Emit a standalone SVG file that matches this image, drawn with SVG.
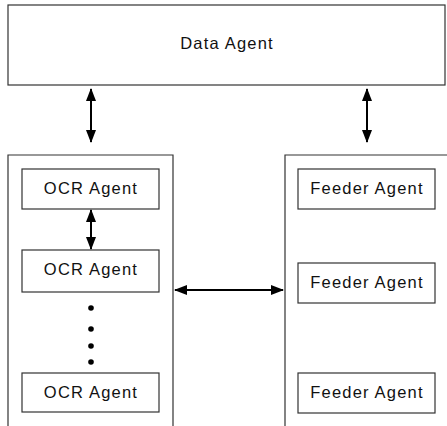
<svg xmlns="http://www.w3.org/2000/svg" width="447" height="426" viewBox="0 0 447 426">
  <style>
    .box { fill: #fff; stroke: #333; stroke-width: 1.2; }
    .frame { fill: none; stroke: #333; stroke-width: 1.2; }
    .label { font-family: "Liberation Sans", Arial, sans-serif; font-size: 16.5px; letter-spacing: 1.2px; fill: #111; text-anchor: middle; }
    .link { stroke: #000; stroke-width: 2; fill: none; marker-start: url(#head); marker-end: url(#head); }
    .dot { fill: #000; }
  </style>
  <defs>
    <marker id="head" viewBox="0 0 13 10" refX="12" refY="5" markerWidth="13" markerHeight="10" markerUnits="userSpaceOnUse" orient="auto-start-reverse">
      <path d="M0,0 L13,5 L0,10 Z" fill="#000"/>
    </marker>
  </defs>
  <rect width="447" height="426" fill="#fff"/>

  <g id="data-agent">
    <rect class="box" x="8" y="5" width="437" height="80"/>
    <text class="label" x="227" y="49">Data Agent</text>
  </g>

  <g id="ocr-group">
    <path class="frame" d="M8,426 V155 H173 V426"/>
  </g>
  <g id="feeder-group">
    <path class="frame" d="M285,426 V155 H447"/>
  </g>

  <g id="ocr-agent-1">
    <rect class="box" x="22" y="169" width="137" height="40"/>
    <text class="label" x="91" y="194">OCR Agent</text>
  </g>
  <g id="ocr-agent-2">
    <rect class="box" x="22" y="250" width="137" height="42"/>
    <text class="label" x="91" y="275">OCR Agent</text>
  </g>
  <g id="ocr-agent-n">
    <rect class="box" x="22" y="373" width="137" height="39"/>
    <text class="label" x="91" y="398">OCR Agent</text>
  </g>
  <g id="ellipsis">
    <circle class="dot" cx="91" cy="308" r="2.8"/>
    <circle class="dot" cx="91" cy="329" r="2.8"/>
    <circle class="dot" cx="91" cy="346" r="2.8"/>
    <circle class="dot" cx="91" cy="362" r="2.8"/>
  </g>

  <g id="feeder-agent-1">
    <rect class="box" x="298" y="169" width="137" height="40"/>
    <text class="label" x="367" y="194">Feeder Agent</text>
  </g>
  <g id="feeder-agent-2">
    <rect class="box" x="298" y="263" width="137" height="40"/>
    <text class="label" x="367" y="288">Feeder Agent</text>
  </g>
  <g id="feeder-agent-n">
    <rect class="box" x="298" y="373" width="137" height="40"/>
    <text class="label" x="367" y="398">Feeder Agent</text>
  </g>

  <g id="connectors">
    <line class="link" x1="91" y1="89" x2="91" y2="142"/>
    <line class="link" x1="367" y1="89" x2="367" y2="142"/>
    <line class="link" x1="91" y1="210" x2="91" y2="249"/>
    <line class="link" x1="175" y1="290" x2="283" y2="290"/>
  </g>
</svg>
